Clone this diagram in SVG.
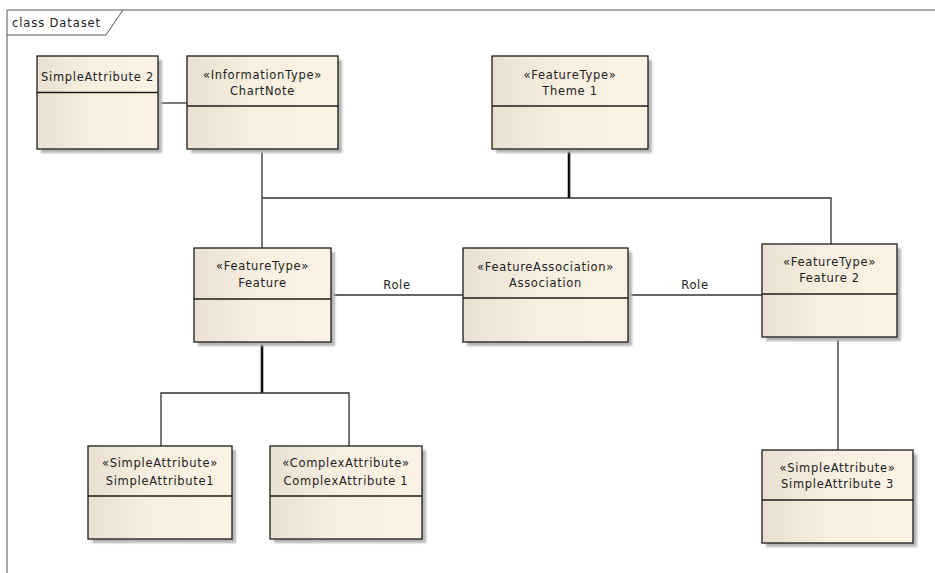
<svg xmlns="http://www.w3.org/2000/svg" width="935" height="573" viewBox="0 0 935 573">
  <style>
    .frame { fill: none; stroke: #555; stroke-width: 1; }
    .box { fill: url(#cream); stroke: #1c1c1c; stroke-width: 1.3; }
    .shadow { fill: #b5b5b5; filter: url(#soft); }
    .div { stroke: #1c1c1c; stroke-width: 1.3; }
    .lbl { font-family: "DejaVu Sans", "Liberation Sans", sans-serif; font-size: 11.5px; fill: #222; text-anchor: middle; letter-spacing: 0.7px; }
    .title { font-family: "DejaVu Sans", "Liberation Sans", sans-serif; font-size: 11.5px; fill: #222; letter-spacing: 0.9px; }
    .thin { fill: none; stroke: #333; stroke-width: 1.3; }
    .thick { fill: none; stroke: #111; stroke-width: 2.6; }
  </style>
  <defs>
    <linearGradient id="cream" x1="0" y1="0" x2="1" y2="0">
      <stop offset="0" stop-color="#e9e0d1"/>
      <stop offset="0.45" stop-color="#f8efe1"/>
      <stop offset="1" stop-color="#fbf2e4"/>
    </linearGradient>
    <filter id="soft" x="-10%" y="-10%" width="120%" height="120%">
      <feGaussianBlur stdDeviation="0.8"/>
    </filter>
  </defs>

  <rect width="935" height="573" fill="#ffffff"/>

  <!-- diagram frame with name tab -->
  <g id="frame">
    <path class="frame" d="M7,573 V10 H935"/>
    <path class="frame" d="M7,35 H106 L123,10"/>
    <text class="title" x="12" y="27">class Dataset</text>
  </g>

  <!-- connectors -->
  <g id="connectors">
    <path class="thin" d="M158,103 H187"/>
    <path class="thin" d="M262,149 V248"/>
    <path class="thin" d="M262,198 H831 V244"/>
    <path class="thick" d="M569,149 V198"/>
    <path class="thin" d="M331,295 H463"/>
    <text class="lbl" x="397" y="289">Role</text>
    <path class="thin" d="M628,295 H762"/>
    <text class="lbl" x="695" y="289">Role</text>
    <path class="thick" d="M262,342 V393"/>
    <path class="thin" d="M161,446 V393 H349 V446"/>
    <path class="thin" d="M838,337 V450"/>
  </g>

  <g id="SimpleAttribute2">
    <rect class="shadow" x="41" y="60" width="121" height="93"/>
    <rect class="box" x="37" y="56" width="121" height="93"/>
    <line class="div" x1="37" y1="92.5" x2="158" y2="92.5"/>
    <text class="lbl" x="97.5" y="81">SimpleAttribute 2</text>
  </g>

  <g id="ChartNote">
    <rect class="shadow" x="191" y="60" width="151" height="93"/>
    <rect class="box" x="187" y="56" width="151" height="93"/>
    <line class="div" x1="187" y1="106" x2="338" y2="106"/>
    <text class="lbl" x="262.5" y="79">«InformationType»</text>
    <text class="lbl" x="262.5" y="95">ChartNote</text>
  </g>

  <g id="Theme1">
    <rect class="shadow" x="496" y="60" width="156" height="93"/>
    <rect class="box" x="492" y="56" width="156" height="93"/>
    <line class="div" x1="492" y1="106" x2="648" y2="106"/>
    <text class="lbl" x="570" y="79">«FeatureType»</text>
    <text class="lbl" x="570" y="95">Theme 1</text>
  </g>

  <g id="Feature">
    <rect class="shadow" x="198" y="252" width="137" height="94"/>
    <rect class="box" x="194" y="248" width="137" height="94"/>
    <line class="div" x1="194" y1="299" x2="331" y2="299"/>
    <text class="lbl" x="262.5" y="270">«FeatureType»</text>
    <text class="lbl" x="262.5" y="287">Feature</text>
  </g>

  <g id="Association">
    <rect class="shadow" x="467" y="252" width="165" height="94"/>
    <rect class="box" x="463" y="248" width="165" height="94"/>
    <line class="div" x1="463" y1="298" x2="628" y2="298"/>
    <text class="lbl" x="545.5" y="271">«FeatureAssociation»</text>
    <text class="lbl" x="545.5" y="287">Association</text>
  </g>

  <g id="Feature2">
    <rect class="shadow" x="766" y="248" width="135" height="93"/>
    <rect class="box" x="762" y="244" width="135" height="93"/>
    <line class="div" x1="762" y1="294" x2="897" y2="294"/>
    <text class="lbl" x="829.5" y="266">«FeatureType»</text>
    <text class="lbl" x="829.5" y="282">Feature 2</text>
  </g>

  <g id="SimpleAttribute1">
    <rect class="shadow" x="92" y="450" width="144" height="93"/>
    <rect class="box" x="88" y="446" width="144" height="93"/>
    <line class="div" x1="88" y1="496" x2="232" y2="496"/>
    <text class="lbl" x="160" y="467">«SimpleAttribute»</text>
    <text class="lbl" x="160" y="485">SimpleAttribute1</text>
  </g>

  <g id="ComplexAttribute1">
    <rect class="shadow" x="274" y="450" width="152" height="93"/>
    <rect class="box" x="270" y="446" width="152" height="93"/>
    <line class="div" x1="270" y1="496" x2="422" y2="496"/>
    <text class="lbl" x="346" y="467">«ComplexAttribute»</text>
    <text class="lbl" x="346" y="485">ComplexAttribute 1</text>
  </g>

  <g id="SimpleAttribute3">
    <rect class="shadow" x="766" y="454" width="151" height="93"/>
    <rect class="box" x="762" y="450" width="151" height="93"/>
    <line class="div" x1="762" y1="500" x2="913" y2="500"/>
    <text class="lbl" x="837.5" y="472">«SimpleAttribute»</text>
    <text class="lbl" x="837.5" y="488">SimpleAttribute 3</text>
  </g>
</svg>
